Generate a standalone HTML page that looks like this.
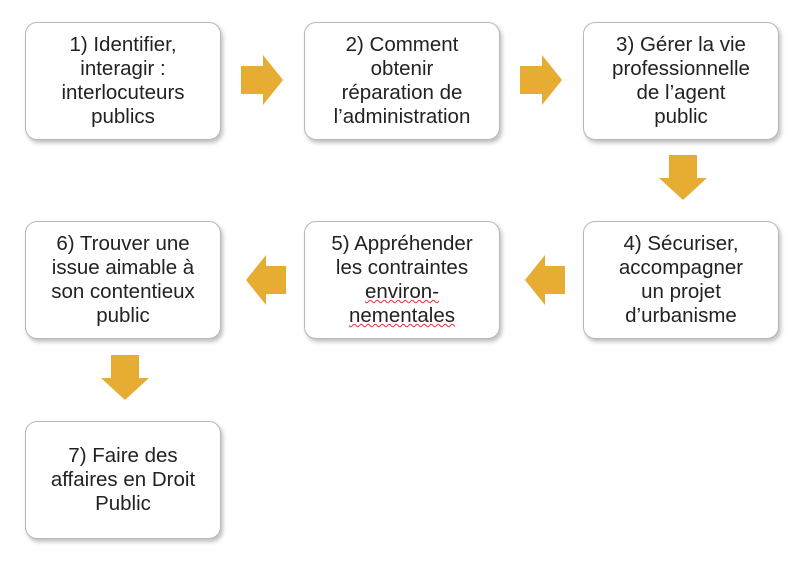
<!DOCTYPE html>
<html><head><meta charset="utf-8"><style>
body{margin:0;width:800px;height:568px;background:#fff;position:relative;overflow:hidden;font-family:"Liberation Sans",sans-serif}
.b{position:absolute;width:196px;height:118px;border:1.5px solid #b8b8b8;border-radius:12px;box-shadow:2px 3px 4px rgba(0,0,0,.25);display:flex;align-items:center;justify-content:center;text-align:center;font-size:20.5px;line-height:24px;color:#222;box-sizing:border-box;background:#fff}
.u{text-decoration:underline wavy #d33;text-decoration-thickness:1px}
svg{position:absolute;left:0;top:0}
</style></head><body>
<div class="b" style="left:25px;top:22px"><div>1) Identifier,<br>interagir :<br>interlocuteurs<br>publics</div></div>
<div class="b" style="left:304px;top:22px"><div>2) Comment<br>obtenir<br>réparation de<br>l’administration</div></div>
<div class="b" style="left:583px;top:22px"><div>3) Gérer la vie<br>professionnelle<br>de l’agent<br>public</div></div>
<div class="b" style="left:583px;top:221px"><div>4) Sécuriser,<br>accompagner<br>un projet<br>d’urbanisme</div></div>
<div class="b" style="left:304px;top:221px"><div>5) Appréhender<br>les contraintes<br><span class="u">environ-</span><br><span class="u">nementales</span></div></div>
<div class="b" style="left:25px;top:221px"><div>6) Trouver une<br>issue aimable à<br>son contentieux<br>public</div></div>
<div class="b" style="left:25px;top:421px"><div>7) Faire des<br>affaires en Droit<br>Public</div></div>
<svg width="800" height="568" fill="#e6ad32">
<polygon points="241,66 263,66 263,55 283,80 263,105 263,94 241,94"/>
<polygon points="520,66 542,66 542,55 562,80 542,105 542,94 520,94"/>
<polygon points="669,155 697,155 697,178 707,178 683,200 659,178 669,178"/>
<polygon points="286,266 266,266 266,255 246,280 266,305 266,294 286,294"/>
<polygon points="565,266 545,266 545,255 525,280 545,305 545,294 565,294"/>
<polygon points="111,355 139,355 139,378 149,378 125,400 101,378 111,378"/>
</svg>
</body></html>
